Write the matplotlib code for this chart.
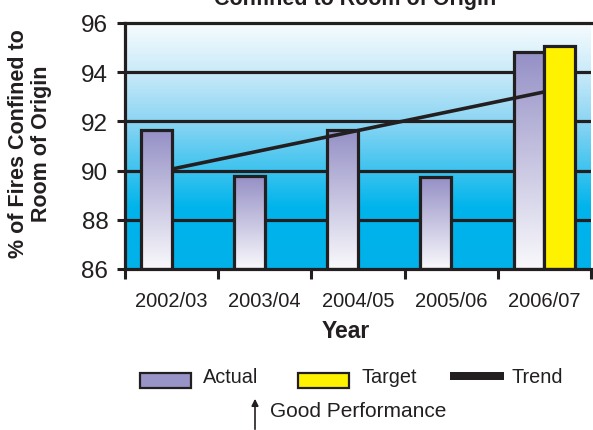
import numpy as np
import matplotlib
matplotlib.use("Agg")
import matplotlib.pyplot as plt
from matplotlib.colors import LinearSegmentedColormap
from matplotlib.patches import Rectangle

plt.rcParams['font.family'] = ['Liberation Sans', 'DejaVu Sans']

# ---- data ----
years = ["2002/03", "2003/04", "2004/05", "2005/06", "2006/07"]
actual = [91.65, 89.78, 91.65, 89.72, 94.82]
target_year = "2006/07"
target = 95.07
trend_years = ["2002/03", "2006/07"]
trend = [90.06, 93.2]
y_ticks = [86, 88, 90, 92, 94, 96]

DARK = "#231f20"
W, H = 593, 431
fig = plt.figure(figsize=(W / 100, H / 100), dpi=100)

ax = fig.add_axes([125 / W, 1 - 270 / H, (591 - 125) / W, (270 - 24) / H])
ymin, ymax = y_ticks[0], y_ticks[-1]
xmin, xmax = -0.5, len(years) - 0.5
ax.set_xlim(xmin, xmax)
ax.set_ylim(ymin, ymax)

# background gradient (cyan at the bottom fading to white at the top)
bg_cmap = LinearSegmentedColormap.from_list(
    "bg", [(0.0, "#00b1ea"), (0.25, "#00b4ec"), (0.4, "#3cc3ef"),
           (0.6, "#8cd5f3"), (0.8, "#c9eaf9"), (1.0, "#f7fcfe")])
grad = np.linspace(0, 1, 256).reshape(-1, 1)
ax.imshow(grad, cmap=bg_cmap, origin="lower", aspect="auto",
          extent=[xmin, xmax, ymin, ymax], zorder=0)

# horizontal grid lines
for yv in y_ticks[1:-1]:
    ax.axhline(yv, color=DARK, lw=2.3, zorder=1)
ax.axhline(ymax, color=DARK, lw=2.3, zorder=1, clip_on=False)

# bars with a vertical lavender-to-white gradient
bar_cmap = LinearSegmentedColormap.from_list("bar", ["#f9f9fc", "#9590c6"])
bw = 0.33
xpos = np.arange(len(years))
for x, v in zip(xpos, actual):
    x0 = x - bw
    ax.imshow(grad, cmap=bar_cmap, origin="lower", aspect="auto",
              extent=[x0, x, ymin, v], zorder=2)
    ax.add_patch(Rectangle((x0, ymin), bw, v - ymin, fill=False,
                           ec=DARK, lw=2.3, zorder=3))

tx = years.index(target_year)
ax.bar([tx + bw / 2], [target - ymin], bottom=ymin, width=bw,
       color="#fff200", edgecolor=DARK, linewidth=2.3, zorder=3)

# trend line
trend_x = [years.index(y) for y in trend_years]
ax.plot(trend_x, trend, color=DARK, lw=2.6, zorder=4, solid_capstyle="butt")

ax.set_xlim(xmin, xmax)
ax.set_ylim(ymin, ymax)

# axes styling
for s in ["top", "right"]:
    ax.spines[s].set_visible(False)
for s in ["left", "bottom"]:
    ax.spines[s].set_color(DARK)
    ax.spines[s].set_linewidth(2.3)
    ax.spines[s].set_zorder(5)

ax.set_yticks(y_ticks)
ax.set_yticklabels([str(t) for t in y_ticks])
ax.tick_params(axis="y", direction="out", length=6, width=2.2, color=DARK,
               labelsize=17.5, labelcolor=DARK, pad=6)

ax.set_xticks(np.arange(len(years) + 1) - 0.5)
ax.set_xticklabels([])
ax.tick_params(axis="x", which="major", direction="out", length=7,
               width=2.2, color=DARK)
ax.set_xticks(xpos, minor=True)
ax.set_xticklabels(years, minor=True)
ax.tick_params(axis="x", which="minor", length=0, labelsize=14.5,
               labelcolor=DARK, pad=16)

ax.set_xlabel("Year", fontsize=16.5, fontweight="bold", color=DARK)
ax.xaxis.set_label_coords((346 - 125) / (591 - 125), -0.205)

fig.text(30 / W, 1 - 144 / H, "% of Fires Confined to\nRoom of Origin",
         rotation=90, ha="center", va="center", fontsize=15.5,
         fontweight="bold", color=DARK, linespacing=1.1)

fig.text(355 / W, 1 - 5 / H, "Confined to Room of Origin", ha="center",
         va="baseline", fontsize=15.5, fontweight="bold", color=DARK)

# legend and note drawn in pixel coordinates
lg = fig.add_axes([0, 0, 1, 1], zorder=10)
lg.set_xlim(0, W)
lg.set_ylim(H, 0)
lg.axis("off")
lg.add_patch(Rectangle((140, 374), 51, 15, fc="#9894c8", ec=DARK, lw=1.6))
lg.text(203, 378, "Actual", fontsize=14.3, color=DARK, va="center")
lg.add_patch(Rectangle((298, 374), 51, 15, fc="#fff200", ec=DARK, lw=1.6))
lg.text(362, 378, "Target", fontsize=14.3, color=DARK, va="center")
lg.add_patch(Rectangle((450, 373), 54, 8, fc=DARK, ec="none"))
lg.text(512, 378, "Trend", fontsize=14.3, color=DARK, va="center")
lg.annotate("", xy=(255, 397), xytext=(255, 433),
            arrowprops=dict(arrowstyle="-|>", color=DARK, lw=1.2,
                            mutation_scale=10))
lg.text(270, 412, "Good Performance", fontsize=15, color=DARK, va="center")

fig.savefig("out.png", dpi=100)
